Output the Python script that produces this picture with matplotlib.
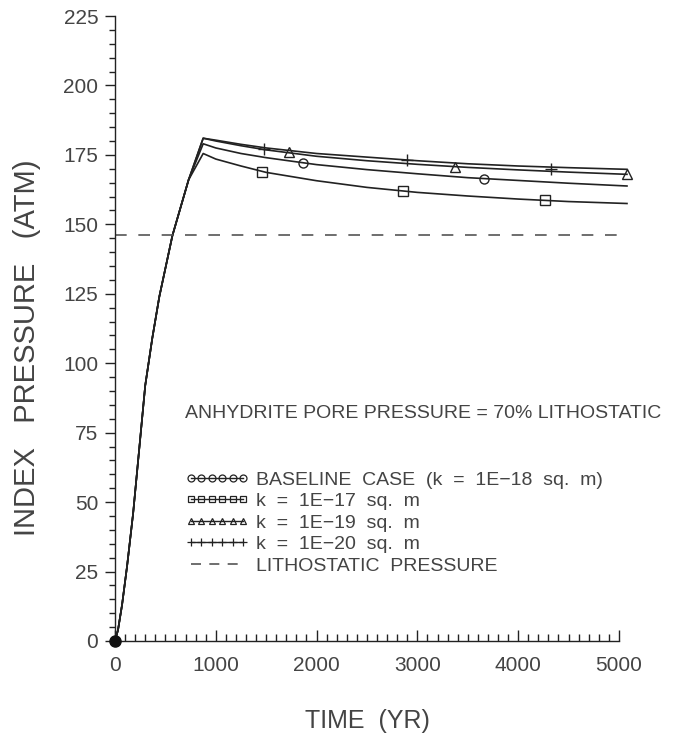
import matplotlib
matplotlib.use("Agg")
import matplotlib.pyplot as plt
from matplotlib.ticker import MultipleLocator

# ---------------- data ----------------
rise_t = [0, 30, 70, 120, 180, 240, 300, 370, 440, 570, 730]
rise_p = [0, 4, 13, 27, 46, 69, 92, 109, 124, 146, 166]

decay_t = [875, 1000, 1250, 1500, 2000, 2500, 3000, 3500, 4000, 4500, 5080]
p_k18 = [179.0, 177.5, 175.5, 174.0, 171.5, 169.7, 168.2, 166.8, 165.8, 164.8, 163.8]
p_k17 = [175.5, 173.5, 171.0, 168.7, 165.7, 163.3, 161.5, 160.2, 159.1, 158.2, 157.5]
p_k19 = [181.0, 180.0, 178.3, 176.8, 174.5, 172.9, 171.6, 170.5, 169.6, 168.8, 168.0]
p_k20 = [181.0, 180.3, 178.8, 177.5, 175.5, 174.2, 172.9, 171.8, 171.0, 170.4, 169.8]

mk_t_k18 = [1863, 3661]
mk_p_k18 = [172.0, 166.3]
mk_t_k17 = [1462, 2856, 4268]
mk_p_k17 = [168.9, 161.9, 158.6]
mk_t_k19 = [1724, 3376, 5080]
mk_p_k19 = [176.0, 170.6, 168.0]
mk_t_k20 = [1482, 2894, 4328]
mk_p_k20 = [177.3, 173.1, 170.1]

litho_t = [0, 5080]
litho_p = [146, 146]

labels = ["BASELINE  CASE  (k  =  1E\u221218  sq.  m)",
          "k  =  1E\u221217  sq.  m",
          "k  =  1E\u221219  sq.  m",
          "k  =  1E\u221220  sq.  m",
          "LITHOSTATIC  PRESSURE"]
note = "ANHYDRITE PORE PRESSURE = 70% LITHOSTATIC"
xlabel = "TIME  (YR)"
ylabel = "INDEX   PRESSURE   (ATM)"

# ---------------- style ----------------
plt.rcParams['font.family'] = ['Liberation Sans', 'DejaVu Sans']
txt = "#444444"
lc = "#222222"

fig = plt.figure(figsize=(6.74, 7.36), dpi=100)
ax = fig.add_axes([115/674, 1-641/736, 514/674, 625/736])

for p, mt, mp, m in [(p_k18, mk_t_k18, mk_p_k18, 'o'),
                     (p_k17, mk_t_k17, mk_p_k17, 's'),
                     (p_k19, mk_t_k19, mk_p_k19, '^'),
                     (p_k20, mk_t_k20, mk_p_k20, '+')]:
    ax.plot(rise_t + decay_t, rise_p + p, color=lc, lw=1.2, clip_on=False)
    ax.plot(mt, mp, ls='none', marker=m, ms=9 if m == '+' else 6.5,
            mfc='none', mec=lc, mew=1.0, clip_on=False)

ax.plot(litho_t, litho_p, color="#555555", lw=1.2, dashes=(7, 7))
ax.plot([0], [0], marker='o', ms=8, color='#111111', clip_on=False, zorder=5)

ax.set_xlim(0, 5100)
ax.set_ylim(0, 225)
for s in ['top', 'right']:
    ax.spines[s].set_visible(False)
ax.spines['bottom'].set_bounds(0, 5000)
for s in ['left', 'bottom']:
    ax.spines[s].set_color(lc)
    ax.spines[s].set_linewidth(1.0)

ax.yaxis.set_major_locator(MultipleLocator(25))
ax.yaxis.set_minor_locator(MultipleLocator(5))
ax.set_xticks([t for t in range(0, 5001, 1000)])
ax.set_xticks([t for t in range(0, 5001, 100)], minor=True)
ax.tick_params(axis='x', which='major', direction='in', length=8, width=1, color=lc,
               labelsize=15, labelcolor=txt, pad=11)
ax.tick_params(axis='x', which='minor', direction='in', length=5, width=1, color=lc)
ax.tick_params(axis='y', which='major', direction='out', length=7, width=1, color=lc,
               labelsize=15, labelcolor=txt, pad=5)
ax.tick_params(axis='y', which='minor', direction='out', length=4, width=1, color=lc)

ax.set_xlabel(xlabel, fontsize=18, color=txt)
ax.xaxis.set_label_coords((367-115)/514, -(709-641)/625)
ax.set_ylabel(ylabel, fontsize=21, color=txt)
ax.yaxis.set_label_coords(-(115-41)/514, 0.47)

fig.text(185/674, 1-413/736, note, fontsize=14, color=txt, va='center', ha='left')

handles = []
for m in ['o', 's', '^', '+']:
    h, = ax.plot([], [], color=lc, lw=1.0, marker=m, ms=5 if m != '+' else 6,
                 mfc='none', mec=lc, mew=0.9)
    handles.append(h)
h, = ax.plot([], [], color="#555555", lw=1.2, dashes=(6, 5))
handles.append(h)
leg = ax.legend(handles, labels, loc='upper left',
                bbox_to_anchor=(185/674, 1-471/736), bbox_transform=fig.transFigure,
                frameon=False, numpoints=6, handlelength=3.3, handletextpad=0.35,
                labelspacing=0.2, borderpad=0, borderaxespad=0, fontsize=14)
for t in leg.get_texts():
    t.set_color(txt)

fig.savefig("out.png", dpi=100)
